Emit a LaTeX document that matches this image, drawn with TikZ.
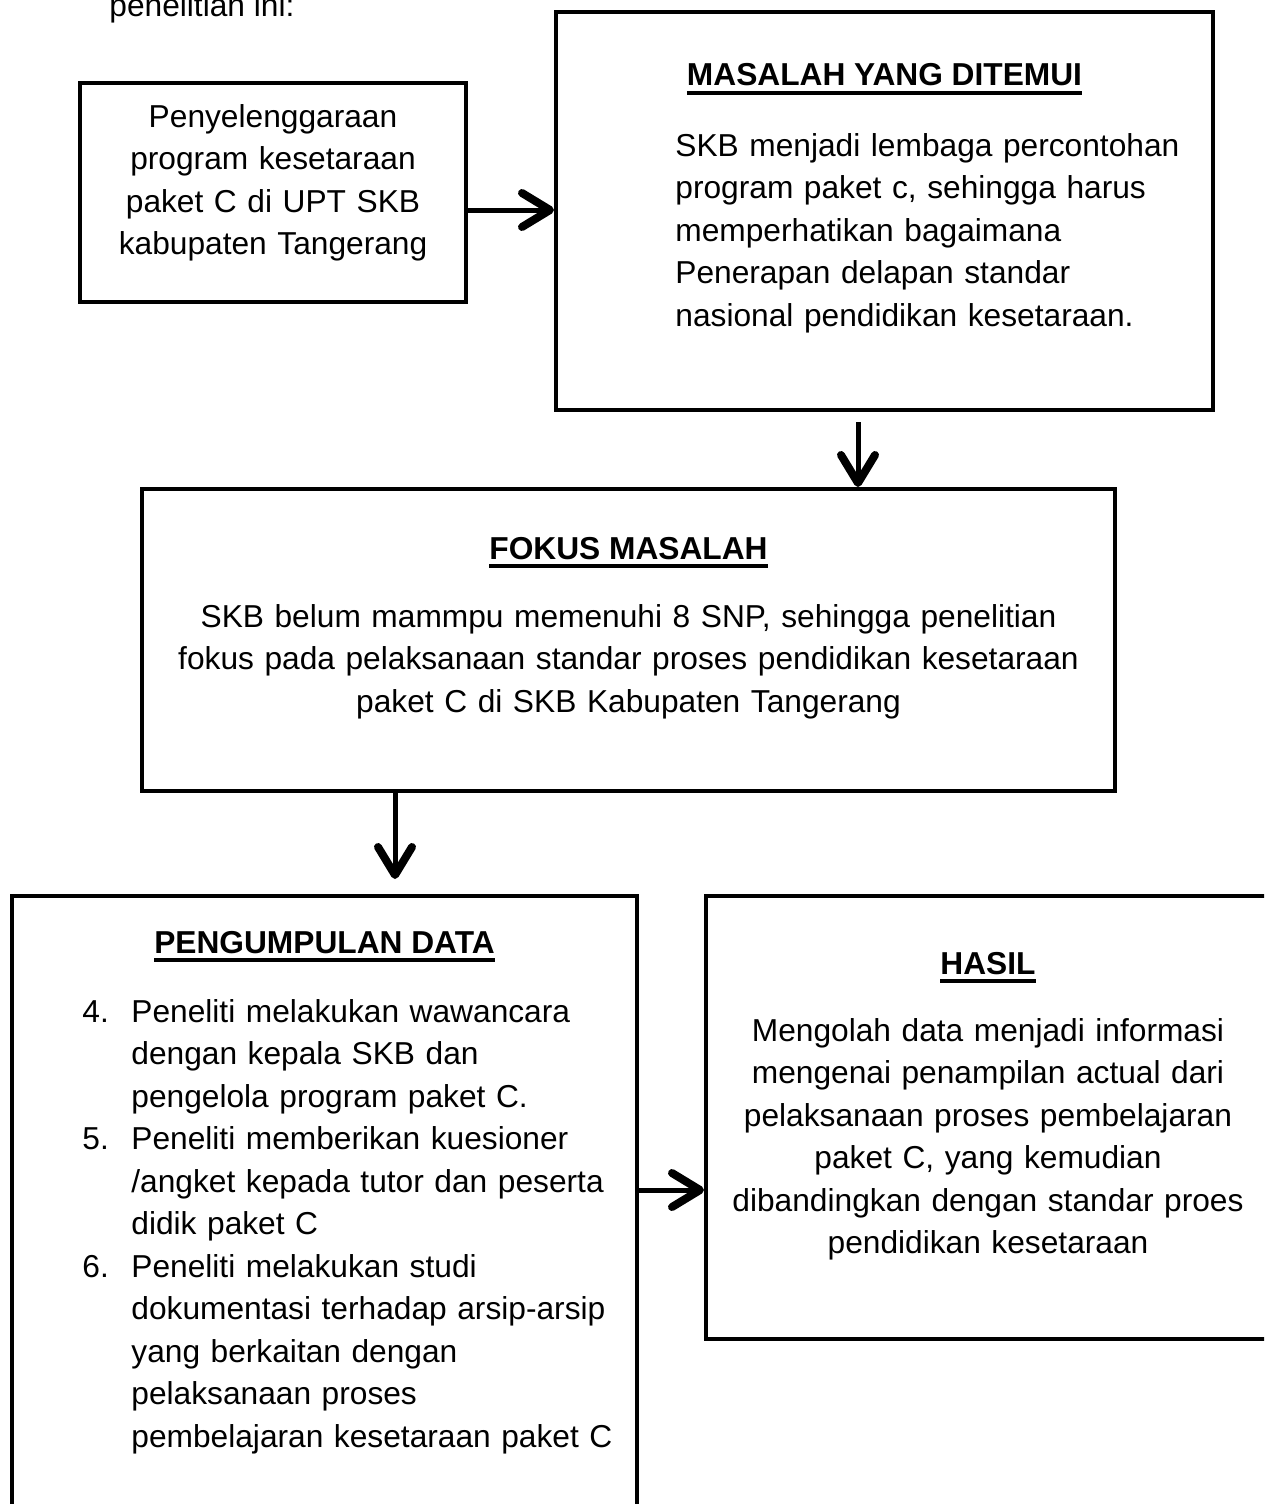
\documentclass[tikz,border=0pt]{standalone}
\usepackage{fontspec}
\setmainfont{Liberation Sans}
\usetikzlibrary{arrows.meta,positioning}
\newcommand\garis[1]{\sbox0{\bfseries #1}\rlap{\rule[-4.4pt]{\wd0}{2pt}}\usebox0}
\newcommand\butir[1]{\leavevmode\llap{\makebox[24.5pt][l]{#1}}}
\tikzset{
  kotak/.style = {rectangle, draw=black, line width=2pt, inner sep=0pt},% kotak alur
  teks/.style = {inner sep=0pt, font=\fontsize{15.85pt}{21.25pt}\selectfont},
  teks_c/.style = {teks, align=center, anchor=base},% teks tengah
  teks_l/.style = {teks, align=left, anchor=base west},% teks rata kiri
  panah/.style = {line width=2.5pt,
    -{Straight Barb[length=14pt,width=17pt,line width=4pt,round]}}
}
\begin{document}
\begin{tikzpicture}[x=0.5pt,y=-0.5pt]
\clip (0,0) rectangle (1264,1504);
% kotak
\node [kotak, minimum width=193pt, minimum height=109.5pt] (penyelenggaraan) at (273,192.5) {};
\node [kotak, minimum width=328.5pt, minimum height=199pt] (masalah) at (884.5,211) {};
\node [kotak, minimum width=486.5pt, minimum height=151pt] (fokus) at (628.5,640) {};
\node [kotak, minimum width=312.5pt, minimum height=322pt] (pengumpulan) at (324.5,1218) {};
\node [kotak, minimum width=282pt, minimum height=221.5pt] (hasil) at (988,1117.5) {};
% teks
\node [teks, anchor=base west] (pengantar) at (109,17) {penelitian ini:};
\node [teks_c, text width=185pt] (isi_penyelenggaraan) at (273,127) {Penyelenggaraan\\
  program kesetaraan\\ paket C di UPT SKB\\ kabupaten Tangerang};
\node [teks_c] (judul_masalah) at (884.5,86) {\garis{MASALAH YANG DITEMUI}};
\node [teks_l, text width=262pt] (isi_masalah) at (675,156) {SKB menjadi lembaga percontohan\\
  program paket c, sehingga harus\\ memperhatikan bagaimana\\
  Penerapan delapan standar\\ nasional pendidikan kesetaraan.};
\node [teks_c] (judul_fokus) at (628.5,559) {\garis{FOKUS MASALAH}};
\node [teks_c, text width=470pt] (isi_fokus) at (628.5,627) {SKB belum mammpu memenuhi 8 SNP, sehingga penelitian\\
  fokus pada pelaksanaan standar proses pendidikan kesetaraan\\
  paket C di SKB Kabupaten Tangerang};
\node [teks_c] (judul_pengumpulan) at (324.5,953) {\garis{PENGUMPULAN DATA}};
\node [teks_l, text width=250pt] (isi_pengumpulan) at (131,1022) {%
  \butir{4.}Peneliti melakukan wawancara\\
  dengan kepala SKB dan\\ pengelola program paket C.\\
  \butir{5.}Peneliti memberikan kuesioner\\
  /angket kepada tutor dan peserta\\ didik paket C\\
  \butir{6.}Peneliti melakukan studi\\
  dokumentasi terhadap arsip-arsip\\ yang berkaitan dengan\\
  pelaksanaan proses\\ pembelajaran kesetaraan paket C};
\node [teks_c] (judul_hasil) at (988,974) {\garis{HASIL}};
\node [teks_c, text width=280pt] (isi_hasil) at (988,1041) {Mengolah data menjadi informasi\\
  mengenai penampilan actual dari\\ pelaksanaan proses pembelajaran\\
  paket C, yang kemudian\\ dibandingkan dengan standar proes\\ pendidikan kesetaraan};
% panah
\coordinate (ab) at ([yshift=-8.75pt]penyelenggaraan.east);
\coordinate (bc) at ([xshift=-13.25pt,yshift=-5pt]masalah.south);
\coordinate (cd) at ([xshift=35.25pt]pengumpulan.north);
\coordinate (de) at ([yshift=-36.25pt]hasil.west);
\draw [panah] (ab) -- (ab -| masalah.west);
\draw [panah] (bc) -- (bc |- fokus.north);
\draw [panah] (cd |- fokus.south) -- ([yshift=7.5pt]cd);
\draw [panah] (de -| pengumpulan.east) -- (de);
\end{tikzpicture}
\end{document}
